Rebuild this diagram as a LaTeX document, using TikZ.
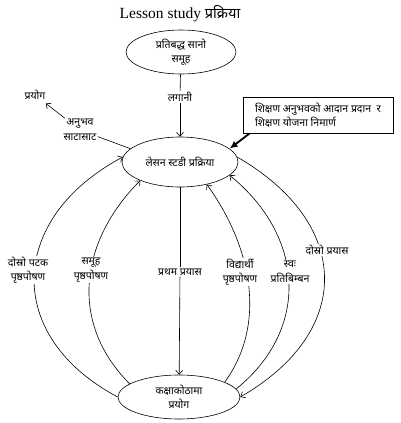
\documentclass[tikz,border=0pt]{standalone}
\usepackage{fontspec}
\setmainfont{Liberation Serif}
\newfontfamily\devfont[Script=Devanagari]{Noto Sans}
\usetikzlibrary{arrows.meta,shapes.geometric}

\begin{document}
\begin{tikzpicture}[x=1pt,y=1pt,>={Straight Barb[length=4pt,width=7pt]},
  line width=0.6pt,
  every node/.style={font=\devfont\fontsize{10.5}{14.5}\selectfont},
  ell/.style={ellipse,draw,inner sep=0pt,align=center},
  lbl/.style={fill=white,inner sep=1pt,align=center}]
  \useasboundingbox (0,0) rectangle (400,-423);
  % title
  \node[font=\fontsize{15.5}{18}\selectfont] (title) at (180,-14) {Lesson study {\devfont\fontsize{14.5}{18}\selectfont प्रक्रिया}};
  % the three stages
  \node[ell,minimum width=110,minimum height=44] (samuha) at (181,-52) {प्रतिबद्ध सानो\\समूह};
  \node[ell,minimum width=116,minimum height=50] (lesson) at (180,-162) {लेसन स्टडी प्रक्रिया};
  \node[ell,minimum width=122,minimum height=44] (kaksha) at (179,-397) {कक्षाकोठामा\\प्रयोग};
  % investment
  \node[lbl] (lagani) at (180,-97) {लगानी};
  \draw (samuha) -- (lagani);
  \draw[->] (lagani) -- (lesson);
  % sharing of experience
  \node (prayog) at (35,-95) {प्रयोग};
  \node[lbl] (anubhav) at (80,-130) {अनुभव\\साटासाट};
  \draw (lesson.165) -- (anubhav);
  \draw[->] (anubhav) -- (prayog);
  % note box
  \node[draw,align=left,minimum width=150,minimum height=36,line width=0.8pt] (note) at (318,-115)
    {शिक्षण अनुभवको आदान प्रदान\ \ र\\शिक्षण योजना निमार्ण};
  \draw[line width=1.8pt,-{Latex[length=8pt,width=7pt]}] ([xshift=7]note.south west) -- (lesson.15);
  % first attempt
  \node[lbl] (pratham) at (180,-272) {प्रथम प्रयास};
  \draw (lesson) -- (pratham);
  \draw[->] (pratham) -- (kaksha);
  % feedback loops
  \draw[->] (kaksha.180) .. controls +(152:130) and +(208:130) .. (lesson.175);
  \draw[->] (kaksha.165) .. controls +(135:86) and +(225:86) .. (lesson.205);
  \draw[->] (kaksha.18) .. controls +(54:74) and +(306:74) .. (lesson.320);
  \draw[->] (kaksha.8) .. controls +(39:96) and +(321:96) .. (lesson.345);
  \draw[->] (lesson.5) .. controls +(330:132) and +(30:132) .. (kaksha.0);
  % labels on the loops
  \node[lbl] (dospatak) at (28,-270) {दोस्रो पटक\\पृष्ठपोषण};
  \node[lbl] (samfb) at (91,-270) {समूह\\पृष्ठपोषण};
  \node[lbl] (vidfb) at (240,-272) {विद्यार्थी\\पृष्ठपोषण};
  \node[lbl] (swa) at (290,-272) {स्वः\\प्रतिबिम्बन};
  \node[lbl] (dosprayas) at (327,-250) {दोस्रो प्रयास};
\end{tikzpicture}
\end{document}
